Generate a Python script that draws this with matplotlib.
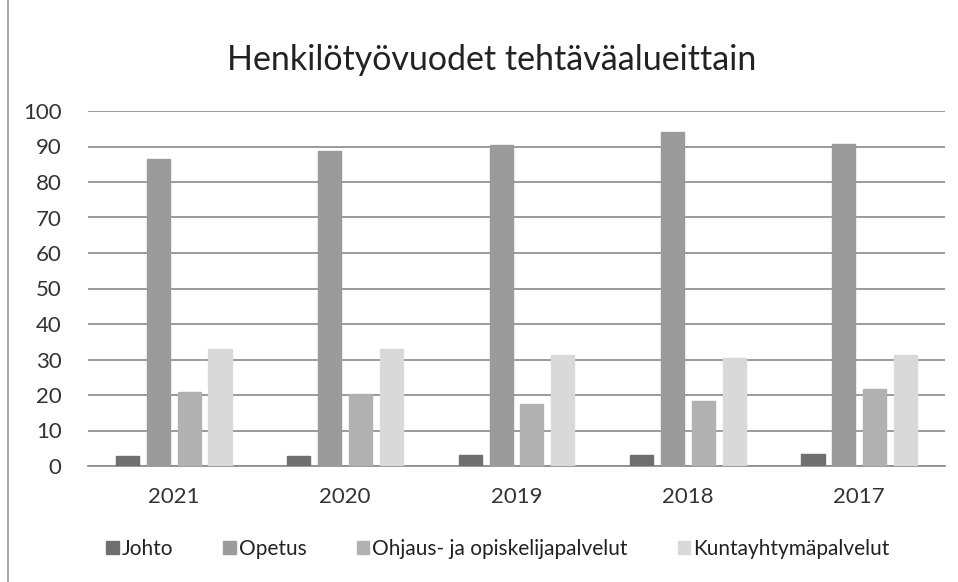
import matplotlib
matplotlib.use("Agg")
import matplotlib.pyplot as plt
import numpy as np

years = ["2021", "2020", "2019", "2018", "2017"]
series = ["Johto", "Opetus", "Ohjaus- ja opiskelijapalvelut", "Kuntayhtymäpalvelut"]
johto = [2.8, 2.8, 3.0, 3.1, 3.5]
opetus = [86.5, 88.7, 90.5, 94.0, 90.7]
ohjaus = [20.8, 20.4, 17.5, 18.4, 21.8]
kunta = [33.0, 33.0, 31.2, 30.5, 31.2]
colors = ["#6f6f6f", "#9b9b9b", "#b1b1b1", "#d9d9d9"]

plt.rcParams['font.family'] = ['Lato', 'DejaVu Sans']

fig = plt.figure(figsize=(9.58, 5.82), dpi=100)
ax = fig.add_axes([88/958, 1-466/582, (945-88)/958, (466-111)/582])

x = np.arange(len(years))
offsets = [-0.27, -0.09, 0.09, 0.27]
width = 0.135
for vals, off, c, name in zip([johto, opetus, ohjaus, kunta], offsets, colors, series):
    ax.bar(x + off, vals, width, color=c, label=name, edgecolor=c, zorder=3)

ax.set_xlim(-0.5, 4.5)
ax.set_ylim(0, 100)
ax.set_yticks(range(0, 101, 10))
ax.yaxis.grid(True, color="#8a8a8a", linewidth=1.2, zorder=0)
ax.set_xticks(x)
ax.set_xticklabels(years)
ax.tick_params(axis="both", length=0, labelsize=16, colors="#333333")
ax.tick_params(axis="x", pad=15)
ax.tick_params(axis="y", pad=19)
for s in ["top", "right", "left"]:
    ax.spines[s].set_visible(False)
ax.spines["bottom"].set_color("#8a8a8a")
ax.spines["bottom"].set_linewidth(1.2)

fig.text(492/958, 1-60/582, "Henkilötyövuodet tehtäväalueittain", ha="center", va="center",
         fontsize=24.5, color="#222222")

fig.legend(loc="center", bbox_to_anchor=(498/958, 1-549/582), ncol=4, frameon=False,
           fontsize=15, handlelength=0.6, handleheight=0.6, handletextpad=0.15,
           columnspacing=2.4, labelcolor="#222222")

fig.add_artist(plt.Line2D([8/958, 8/958], [0, 1], color="#aaaaaa", linewidth=1.5))

fig.savefig("out.png", dpi=100, facecolor="white")
